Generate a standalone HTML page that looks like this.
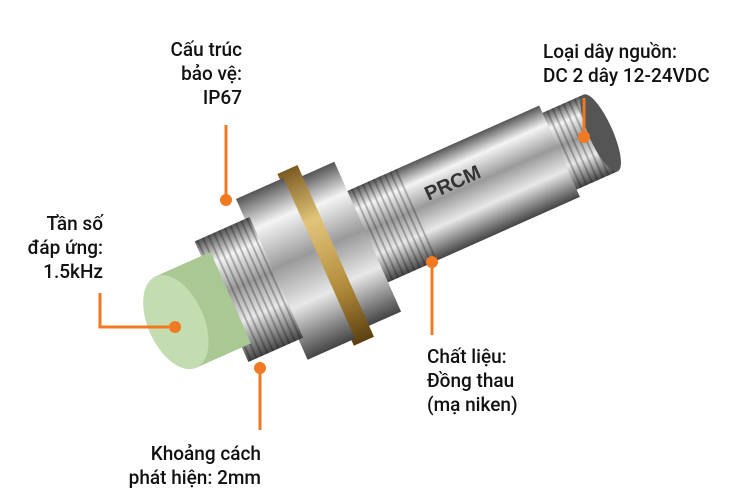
<!DOCTYPE html>
<html><head><meta charset="utf-8"><style>
html,body{margin:0;padding:0;background:#fff;}
.wrap{position:relative;width:750px;height:500px;overflow:hidden;font-family:"Roboto","Liberation Sans",sans-serif;}
.t{position:absolute;font-size:19px;line-height:24px;color:#111;font-weight:500;}
.r{text-align:right;}
</style></head><body><div class="wrap">
<svg width="750" height="500" style="position:absolute;left:0;top:0">
<defs>
<linearGradient id="ch" x1="0" y1="0" x2="0" y2="1">
<stop offset="0" stop-color="#555"/><stop offset="0.2" stop-color="#f4f4f4"/><stop offset="0.45" stop-color="#9a9a9a"/><stop offset="0.7" stop-color="#e8e8e8"/><stop offset="1" stop-color="#444"/></linearGradient>
<linearGradient id="gd" x1="0" y1="0" x2="0" y2="1">
<stop offset="0" stop-color="#7a5a20"/><stop offset="0.3" stop-color="#e2c57a"/><stop offset="0.7" stop-color="#b08a3a"/><stop offset="1" stop-color="#5a4010"/></linearGradient>
<pattern id="th" width="6" height="10" patternUnits="userSpaceOnUse"><rect width="6" height="10" fill="none"/><rect width="2" height="10" fill="#000" opacity="0.25"/></pattern>
</defs>
<g transform="translate(185,318) rotate(-24)">
<rect x="405" y="-42" width="50" height="84" fill="url(#ch)"/>
<rect x="405" y="-42" width="50" height="84" fill="url(#th)"/>
<ellipse cx="455" cy="0" rx="12" ry="42" fill="#555"/>
<rect x="195" y="-50" width="215" height="100" fill="url(#ch)"/>
<rect x="195" y="-50" width="60" height="100" fill="url(#th)"/>
<text x="270" y="-8" font-family="Liberation Sans" font-weight="bold" font-size="20" fill="#333">PRCM</text>
<rect x="160" y="-82" width="40" height="164" fill="url(#ch)"/>
<rect x="143" y="-94" width="22" height="188" fill="url(#gd)"/>
<rect x="95" y="-88" width="52" height="176" fill="url(#ch)"/>
<rect x="40" y="-66" width="60" height="132" fill="url(#ch)"/>
<rect x="40" y="-66" width="60" height="132" fill="url(#th)"/>
<rect x="-10" y="-50" width="60" height="100" fill="#a9c894"/>
<ellipse cx="-10" cy="0" rx="28" ry="50" fill="#c3dcb0"/>
</g>
<g stroke="#f07a22" stroke-width="3" fill="none">
<line x1="226" y1="125" x2="226" y2="200"/>
<polyline points="100,293 100,327 175,327"/>
<line x1="584" y1="98" x2="584" y2="137"/>
<line x1="432" y1="335" x2="432" y2="262"/>
<line x1="260" y1="430" x2="260" y2="368"/>
</g>
<g fill="#f07a22">
<circle cx="226" cy="200" r="6"/><circle cx="175" cy="327" r="6"/><circle cx="584" cy="137" r="6"/><circle cx="432" cy="262" r="6"/><circle cx="260" cy="368" r="6"/>
</g>
</svg>
<div class="t r" style="right:508px;top:38px">Cấu trúc<br>bảo vệ:<br>IP67</div>
<div class="t r" style="right:647px;top:212px">Tần số<br>đáp ứng:<br>1.5kHz</div>
<div class="t" style="left:543px;top:40px">Loại dây nguồn:<br>DC 2 dây 12-24VDC</div>
<div class="t" style="left:427px;top:345px">Chất liệu:<br>Đồng thau<br>(mạ niken)</div>
<div class="t r" style="right:489px;top:442px">Khoảng cách<br>phát hiện: 2mm</div>
</div></body></html>
